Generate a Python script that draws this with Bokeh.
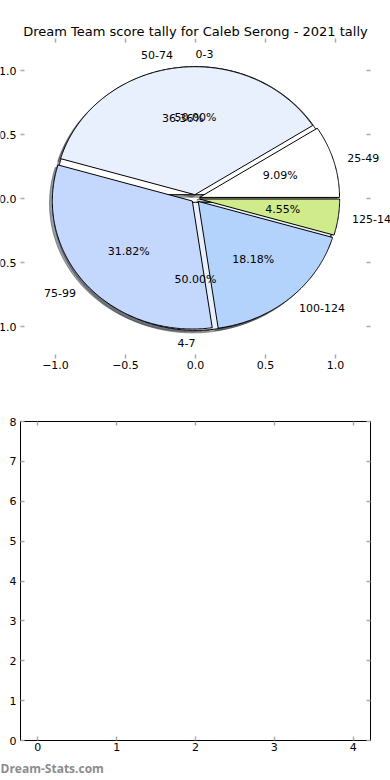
import numpy as np
from bokeh.plotting import figure
from bokeh.models import ColumnDataSource, Range1d, FixedTicker, LinearAxis, Title
from bokeh.layouts import column
from bokeh.core.properties import value
from bokeh.embed import file_html
from bokeh.resources import INLINE

# ---------------- data ----------------
TITLE = "Dream Team score tally for Caleb Serong - 2021 tally"
inner_labels = ["0-3", "4-7"]
inner_values = [1, 1]
inner_colors = ["#ffffff", "#e8effd"]

outer_labels = ["25-49", "50-74", "75-99", "100-124", "125-149"]
outer_values = [2, 8, 7, 4, 1]
outer_colors = ["#ffffff", "#e8effd", "#c4d7fd", "#b3d3fd", "#cfeb8b"]

pie_ticks = [-1.0, -0.5, 0.0, 0.5, 1.0]
pie_tick_labels = ["\u22121.0", "\u22120.5", "0.0", "0.5", "1.0"]
bar_x_ticks = [0, 1, 2, 3, 4]
bar_y_ticks = [0, 1, 2, 3, 4, 5, 6, 7, 8]
WATERMARK = "Dream-Stats.com"

# ---------------- style ----------------
FONT = "DejaVu Sans"
TXT = "11px"
EXPLODE = 0.03
SHADOW = 0.02
TICK_COLOR = "#aaaaaa"
TICK_LEN = 4
PIE_LIM = 1.25          # limits of the pie axes
W = 390                 # canvas width
PIE_FRAME = 350         # pixel width of the pie axes box


def darken(hexcol, f=0.3):
    h = hexcol.lstrip("#")
    r, g, b = (int(h[i:i + 2], 16) for i in (0, 2, 4))
    return "#%02x%02x%02x" % (int(r * f), int(g * f), int(b * f))


def pie_geometry(values, colors, labels):
    vals = np.asarray(values, dtype=float)
    frac = vals / vals.sum()
    edges = np.concatenate([[0.0], np.cumsum(frac)]) * 360.0
    out = dict(xs=[], ys=[], sxs=[], sys=[], fill=[], shade=[],
               lx=[], ly=[], lalign=[], ltext=[], px=[], py=[], ptext=[])
    for i in range(len(vals)):
        t1, t2 = edges[i], edges[i + 1]
        mid = np.radians((t1 + t2) / 2.0)
        cx, cy = EXPLODE * np.cos(mid), EXPLODE * np.sin(mid)
        th = np.radians(np.linspace(t1, t2, max(int((t2 - t1) * 2), 6)))
        xs = np.concatenate([[cx], cx + np.cos(th), [cx]])
        ys = np.concatenate([[cy], cy + np.sin(th), [cy]])
        out["xs"].append(list(xs))
        out["ys"].append(list(ys))
        out["sxs"].append(list(xs - SHADOW))
        out["sys"].append(list(ys - SHADOW))
        out["fill"].append(colors[i])
        out["shade"].append(darken(colors[i]))
        lxo = 1.1 * np.cos(mid)
        out["lx"].append(cx + lxo)
        out["ly"].append(cy + 1.1 * np.sin(mid))
        out["lalign"].append("left" if lxo > 0 else "right")
        out["ltext"].append(labels[i])
        out["px"].append(cx + 0.6 * np.cos(mid))
        out["py"].append(cy + 0.6 * np.sin(mid))
        out["ptext"].append("%1.2f%%" % (frac[i] * 100))
    return out


def style_axis(ax, ticks, labels=None, show=True, standoff=2):
    ax.ticker = FixedTicker(ticks=ticks)
    if show:
        ax.major_label_overrides = {t: l for t, l in zip(ticks, labels)}
        ax.major_label_text_font = FONT
        ax.major_label_text_font_size = TXT
        ax.major_label_text_color = "black"
        ax.major_label_standoff = standoff
    else:
        ax.major_label_overrides = {t: "" for t in ticks}
        ax.major_label_text_font_size = "0px"
        ax.major_label_text_color = None
        ax.major_label_standoff = 0
    ax.axis_line_color = None
    ax.major_tick_in = TICK_LEN
    ax.major_tick_out = 0
    ax.major_tick_line_color = TICK_COLOR
    ax.major_tick_line_width = 1.5
    ax.minor_tick_line_color = None


# ---------------- pie figure ----------------
xr = PIE_LIM * W / PIE_FRAME
p1 = figure(width=W, height=380,
            x_range=Range1d(-xr, xr), y_range=Range1d(-PIE_LIM, PIE_LIM),
            min_border_left=0, min_border_right=0, min_border_top=38, min_border_bottom=22,
            toolbar_location=None, output_backend="svg", title=TITLE)
p1.grid.visible = False
p1.outline_line_color = None
p1.background_fill_color = "white"
p1.border_fill_color = "white"
p1.title.text_font = FONT
p1.title.text_font_size = "13px"
p1.title.text_font_style = "normal"
p1.title.text_color = "black"
p1.title.align = "center"
p1.title.standoff = 0

style_axis(p1.xaxis[0], pie_ticks, pie_tick_labels, show=True, standoff=2)
p1.yaxis.visible = False
ax_top = LinearAxis()
style_axis(ax_top, pie_ticks, show=False)
p1.add_layout(ax_top, "above")

# left / right tick marks of the pie axes box (pointing inwards)
n = len(pie_ticks)
p1.ray(x=[-PIE_LIM] * n, y=pie_ticks, length=TICK_LEN, length_units="screen", angle=0,
       line_color=TICK_COLOR, line_width=1.5)
p1.ray(x=[PIE_LIM] * n, y=pie_ticks, length=TICK_LEN, length_units="screen", angle=np.pi,
       line_color=TICK_COLOR, line_width=1.5)

g_in = pie_geometry(inner_values, inner_colors, inner_labels)
g_out = pie_geometry(outer_values, outer_colors, outer_labels)

for g in (g_in, g_out):
    p1.patches(xs=g["sxs"], ys=g["sys"], fill_color=g["shade"], fill_alpha=0.5,
               line_color=g["shade"], line_alpha=0.5, line_width=1)
for g in (g_in, g_out):
    p1.patches(xs=g["xs"], ys=g["ys"], fill_color=g["fill"], line_color="black", line_width=1)

for g in (g_in, g_out):
    src_l = ColumnDataSource(dict(x=g["lx"], y=g["ly"], t=g["ltext"], a=g["lalign"]))
    p1.text(x="x", y="y", text="t", source=src_l, text_align="a", text_baseline="middle",
            text_font=value(FONT), text_font_size=value(TXT), text_color="black")
    src_p = ColumnDataSource(dict(x=g["px"], y=g["py"], t=g["ptext"]))
    p1.text(x="x", y="y", text="t", source=src_p, text_align="center", text_baseline="middle",
            text_font=value(FONT), text_font_size=value(TXT), text_color="black")

# y tick labels of the pie axes, just left of the axes box
ysrc = ColumnDataSource(dict(x=[-PIE_LIM] * n, y=pie_ticks, t=pie_tick_labels))
p1.text(x="x", y="y", text="t", source=ysrc, x_offset=-4, text_align="right",
        text_baseline="middle", text_font=value(FONT), text_font_size=value(TXT),
        text_color="black")

# ---------------- empty bar figure ----------------
p2 = figure(width=W, height=400,
            x_range=Range1d(-0.22, 4.22), y_range=Range1d(0, 8),
            min_border_left=20, min_border_right=20, min_border_top=41, min_border_bottom=40,
            toolbar_location=None, output_backend="svg")
p2.grid.visible = False
p2.outline_line_color = "black"
p2.outline_line_width = 1
p2.background_fill_color = "white"
p2.border_fill_color = "white"
style_axis(p2.xaxis[0], bar_x_ticks, [str(v) for v in bar_x_ticks], show=True, standoff=2)
style_axis(p2.yaxis[0], bar_y_ticks, [str(v) for v in bar_y_ticks], show=True, standoff=4)
ax2_top = LinearAxis()
style_axis(ax2_top, bar_x_ticks, show=False)
p2.add_layout(ax2_top, "above")
ax2_right = LinearAxis()
style_axis(ax2_right, bar_y_ticks, show=False)
p2.add_layout(ax2_right, "right")

wm = Title(text=WATERMARK, align="left", offset=-20, standoff=8,
           text_font="Open Sans", text_font_size="12px", text_font_style="bold",
           text_color="#8c8c8c")
p2.add_layout(wm, "below")

# the two panels are independent: do not line their frames up
for p in (p1, p2):
    if "frame_align" in p.properties():
        p.frame_align = False

layout = column(p1, p2)
open("out.html", "w").write(file_html(layout, INLINE))
